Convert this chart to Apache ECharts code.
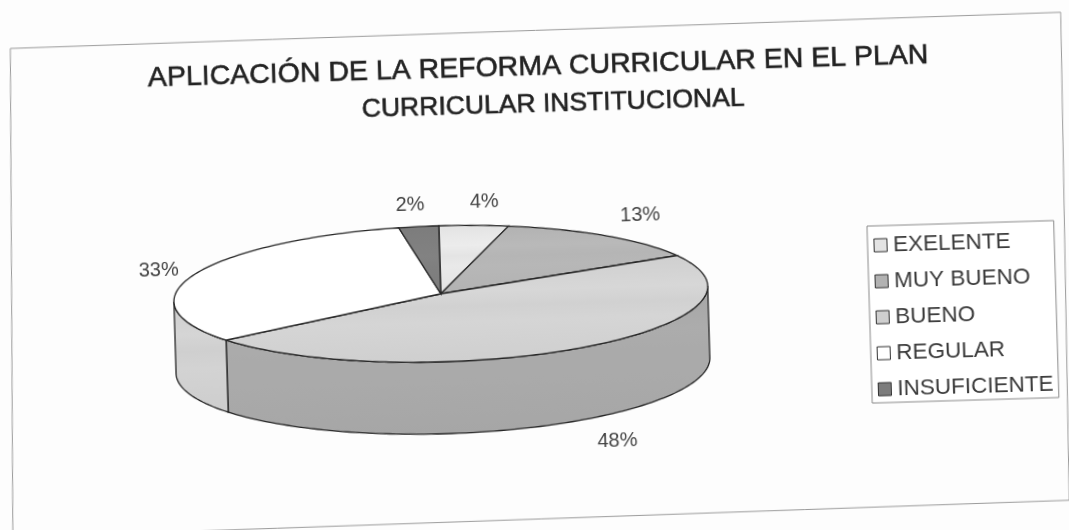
<!DOCTYPE html>
<html>
<head>
<meta charset="utf-8">
<title>Reforma curricular</title>
<script src="https://cdn.jsdelivr.net/npm/echarts@6/dist/echarts.min.js"></script>
<style>
html, body { margin: 0; padding: 0; width: 1069px; height: 530px; overflow: hidden; background: #fdfdfd; }
/* the original is a scanned page, slightly crooked */
#main { width: 1069px; height: 530px; transform: rotate(-1.7deg); transform-origin: 534.5px 265px; }
</style>
</head>
<body>
<div id="main"></div>
<script>
var categories = ['EXELENTE', 'MUY BUENO', 'BUENO', 'REGULAR', 'INSUFICIENTE'];
// the labels show them rounded
var percentValues = [4.2, 13.2, 47.6, 32.6, 2.4];
var titleLines = ['APLICACIÓN DE LA REFORMA CURRICULAR EN EL PLAN', 'CURRICULAR INSTITUCIONAL'];

var topColors = ['#e3e3e3', '#b2b2b2', '#cfcfcf', '#ffffff', '#7c7c7c'];
var sideColors = ['#c8c8c8', '#8f8f8f', '#a6a6a6', '#cdcdcd', '#5f5f5f'];
// label offset from the rim point at the middle of each slice
var labelOffsets = [[11, -23], [34, -20], [32, 95], [-35, -5], [-8, -22]];

var myChart = echarts.init(document.getElementById('main'), null, { renderer: 'canvas' });

var pieX = 440, pieY = 291, radiusX = 267, radiusY = 68, depth = 72;
var inkColor = '#262626';

var total = 0;
for (var i = 0; i < percentValues.length; i++) total += percentValues[i];

// angle in degrees, clockwise from the top of the ellipse
function rimPoint(deg, drop) {
    var a = deg * Math.PI / 180;
    return [pieX + radiusX * Math.sin(a), pieY - radiusY * Math.cos(a) + (drop || 0)];
}

function arcPoints(from, to, drop) {
    var pts = [];
    var steps = Math.max(2, Math.ceil(Math.abs(to - from) / 1.5));
    for (var s = 0; s <= steps; s++) {
        pts.push(rimPoint(from + (to - from) * s / steps, drop));
    }
    return pts;
}

// faint horizontal banding like the toner streaks in the scan
function streaked(color) {
    return new echarts.graphic.LinearGradient(0, 0, 0, 1, [
        { offset: 0, color: color },
        { offset: 0.3, color: echarts.color.lift(color, -0.04) },
        { offset: 0.45, color: echarts.color.lift(color, 0.05) },
        { offset: 0.6, color: echarts.color.lift(color, -0.03) },
        { offset: 1, color: color }
    ]);
}

function sliceRenderer(index) {
    var start = 0;
    for (var k = 0; k < index; k++) start += percentValues[k] / total * 360;
    return function (params, api) {
        var span = api.value(0) / total * 360;
        var end = start + span;
        var children = [];

        // wall, only the part of the arc on the front half shows
        var wallFrom = Math.max(start, 90), wallTo = Math.min(end, 270);
        if (wallTo > wallFrom) {
            var wall = arcPoints(wallFrom, wallTo, 0).concat(arcPoints(wallTo, wallFrom, depth));
            children.push({
                type: 'polygon',
                shape: { points: wall },
                style: { fill: streaked(sideColors[index]), stroke: inkColor, lineWidth: 1.3 }
            });
        }

        var top = [[pieX, pieY]].concat(arcPoints(start, end, 0));
        children.push({
            type: 'polygon',
            shape: { points: top },
            style: {
                fill: topColors[index] === '#ffffff' ? '#ffffff' : streaked(topColors[index]),
                stroke: inkColor,
                lineWidth: 1.3
            }
        });

        var mid = rimPoint((start + end) / 2, 0);
        children.push({
            type: 'text',
            style: {
                x: mid[0] + labelOffsets[index][0],
                y: mid[1] + labelOffsets[index][1],
                text: Math.round(api.value(0)) + '%',
                fill: '#444444',
                font: '20px "Liberation Sans", Arial, sans-serif',
                align: 'center',
                verticalAlign: 'middle'
            }
        });
        return { type: 'group', children: children };
    };
}

var seriesList = categories.map(function (name, index) {
    return {
        name: name,
        type: 'custom',
        coordinateSystem: 'none',
        silent: true,
        clip: false,
        itemStyle: { color: topColors[index] },
        renderItem: sliceRenderer(index),
        data: [percentValues[index]]
    };
});

function titleStyle(size) {
    return {
        fontFamily: '"Liberation Sans", Arial, sans-serif',
        fontSize: size,
        fontWeight: 'normal',
        color: '#222222',
        textBorderColor: '#222222',
        textBorderWidth: 0.6
    };
}

var option = {
    animation: false,
    backgroundColor: 'transparent',
    title: [{
        text: titleLines[0],
        left: 539,
        top: 48,
        textAlign: 'center',
        textStyle: titleStyle(28.5)
    }, {
        text: titleLines[1],
        left: 553,
        top: 86,
        textAlign: 'center',
        textStyle: titleStyle(26.5)
    }],
    legend: {
        orient: 'vertical',
        left: 868,
        top: 236,
        padding: [8, 5, 2, 6],
        itemWidth: 13,
        itemHeight: 13,
        itemGap: 13,
        icon: 'rect',
        backgroundColor: '#ffffff',
        borderColor: '#8a8a8a',
        borderWidth: 1,
        selectedMode: false,
        itemStyle: { borderColor: '#333333', borderWidth: 1 },
        textStyle: { fontFamily: '"Liberation Sans", Arial, sans-serif', fontSize: 22.5, color: '#3a3a3a', padding: [0, 0, 0, 1] },
        data: categories
    },
    graphic: [{
        // outer frame of the scanned chart
        type: 'polygon',
        silent: true,
        z: -1,
        shape: { points: [[17, 33], [1068, 28], [1062, 516], [5, 522]] },
        style: { fill: 'transparent', stroke: '#9a9a9a', lineWidth: 1 }
    }],
    series: seriesList
};

myChart.setOption(option);
</script>
</body>
</html>
